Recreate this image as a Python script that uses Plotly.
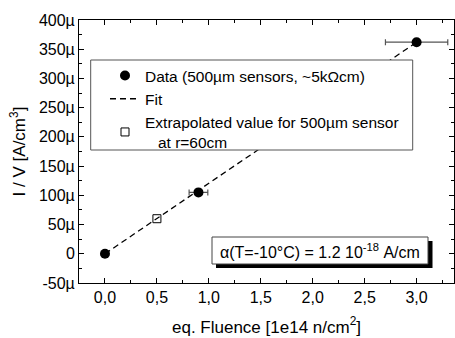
import plotly.graph_objects as go

# Data
fluence = [0.0, 0.9, 3.0]
current = [0.0, 105e-6, 362e-6]
fluence_err = [0.0, 0.09, 0.3]
fit_x = [0.0, 3.0]
fit_y = [0.0, 362e-6]
extrap_x = [0.5]
extrap_y = [60e-6]
y_tickvals = [-50e-6, 0, 50e-6, 100e-6, 150e-6, 200e-6, 250e-6, 300e-6, 350e-6, 400e-6]
y_ticktext = ["-50µ", "0", "50µ", "100µ", "150µ", "200µ", "250µ", "300µ", "350µ", "400µ"]
x_tickvals = [0.0, 0.5, 1.0, 1.5, 2.0, 2.5, 3.0]

W, H = 455, 338
L, R, T, B = 79, 1, 20, 55
pw, ph = W - L - R, H - T - B

def px(x):
    return (x - L) / pw

def py(y):
    return 1 - (y - T) / ph

FONT = "Arial, Liberation Sans, sans-serif"

fig = go.Figure()
fig.add_trace(go.Scatter(
    x=fluence, y=current, mode="markers", name="Data (500µm sensors, ~5kΩcm)",
    marker=dict(symbol="circle", size=10, color="black"),
    error_x=dict(type="data", array=fluence_err, color="#555555", thickness=1.2, width=3),
))
fig.add_trace(go.Scatter(
    x=fit_x, y=fit_y, mode="lines", name="Fit",
    line=dict(color="black", width=1.3, dash="6px,4px"),
))
fig.add_trace(go.Scatter(
    x=extrap_x, y=extrap_y, mode="markers",
    name="Extrapolated value for 500µm sensor<br>\u00a0\u00a0\u00a0at r=60cm",
    marker=dict(symbol="square-open", size=8, color="black", line=dict(width=1)),
))

# legend box
fig.add_shape(type="rect", xref="paper", yref="paper",
              x0=px(90.7), x1=px(412.7), y0=py(150), y1=py(60),
              line=dict(color="#555555", width=1), fillcolor="white", layer="above")
# annotation shadow and box
fig.add_shape(type="rect", xref="paper", yref="paper",
              x0=px(216), x1=px(432.5), y0=py(268), y1=py(241),
              line=dict(color="black", width=0), fillcolor="black", layer="above")
fig.add_shape(type="rect", xref="paper", yref="paper",
              x0=px(212), x1=px(428), y0=py(264), y1=py(237),
              line=dict(color="#444444", width=1), fillcolor="white", layer="above")
fig.add_annotation(xref="paper", yref="paper", x=px(320), y=py(250.5),
                   text="α(T=-10°C) = 1.2 10<sup>-18</sup> A/cm", showarrow=False,
                   font=dict(size=16, color="black", family=FONT),
                   xanchor="center", yanchor="middle")

axis_common = dict(
    showline=True, linecolor="black", linewidth=1, mirror="allticks",
    ticks="inside", ticklen=5, tickcolor="black", showgrid=False, zeroline=False,
    tickfont=dict(size=16, color="black", family=FONT),
)
fig.update_xaxes(range=[-0.25, 3.36], tickvals=x_tickvals, tickformat=".1f",
                 title=dict(text="eq. Fluence [1e14 n/cm<sup>2</sup>]",
                            font=dict(size=17, color="black", family=FONT)),
                 minor=dict(ticks="inside", dtick=0.25, ticklen=3, tickcolor="black"),
                 **axis_common)
fig.update_yaxes(range=[-50e-6, 400e-6], tickvals=y_tickvals, ticktext=y_ticktext,
                 title=dict(text="I / V [A/cm<sup>3</sup>]",
                            font=dict(size=17, color="black", family=FONT), standoff=8),
                 minor=dict(ticks="inside", dtick=25e-6, ticklen=3, tickcolor="black", tick0=0),
                 **axis_common)

fig.update_layout(
    width=W, height=H, margin=dict(l=L, r=R, t=T, b=B),
    paper_bgcolor="white", plot_bgcolor="white", separators=",.",
    font=dict(family=FONT, color="black"),
    showlegend=True,
    legend=dict(x=px(105), y=py(59), xanchor="left", yanchor="top",
                bgcolor="rgba(0,0,0,0)", borderwidth=0,
                font=dict(size=15.5, color="black", family=FONT),
                tracegroupgap=0),
)
fig.write_html("out.html")
